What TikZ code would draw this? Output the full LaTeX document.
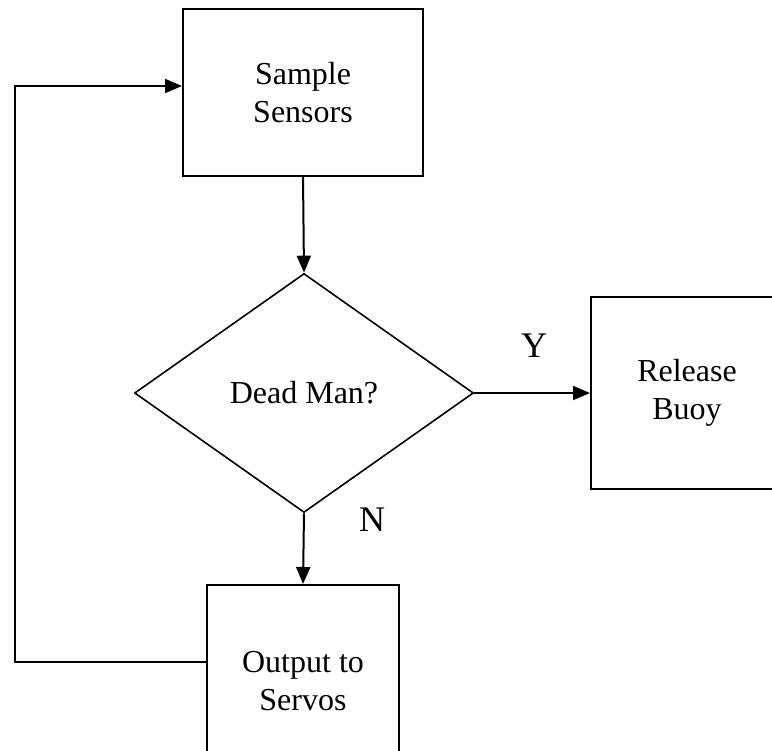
\documentclass[tikz,border=0pt]{standalone}
\usepackage{fontspec}
\setmainfont{Liberation Serif}
\usetikzlibrary{positioning,shapes.geometric,arrows.meta}

\begin{document}
\begin{tikzpicture}[
x=1pt, y=-1pt,
stepbox/.style={rectangle, draw=black, line width=2pt, align=center, font=\fontsize{32}{38}\selectfont},
decision/.style={diamond, draw=black, line width=1.6pt, inner sep=0pt, font=\fontsize{32}{38}\selectfont},
answer/.style={font=\fontsize{36}{40}\selectfont},
flow/.style={line width=2pt, -{Triangle[length=17pt,width=14pt]}}
]
\useasboundingbox (0,0) rectangle (772,751);
\clip (0,0) rectangle (772,751);

\node[stepbox, minimum width=240pt, minimum height=167pt](sample) at (303,92.5){Sample\\Sensors};
\node[decision, minimum width=339pt, minimum height=239pt](dead_man) at (304,393){Dead Man?};
\node[stepbox, minimum width=192pt, minimum height=192pt](release) at (687,393){Release\\Buoy};
\node[stepbox, minimum width=192pt, minimum height=192pt](output) at (303,681){Output to\\Servos};

\node[answer](yes) at (534,346){Y};
\node[answer](no) at (372,520){N};

\coordinate (loop_bot) at (15,662);
\coordinate (loop_top) at (15,86);

\draw[flow] (sample.south) -- (dead_man.north);
\draw[flow] (dead_man.east) -- (release.west);
\draw[flow] (dead_man.south) -- (output.north);
\draw[flow] (output.west |- loop_bot) -- (loop_bot) -- (loop_top) -- (sample.west |- loop_top);
\end{tikzpicture}
\end{document}
